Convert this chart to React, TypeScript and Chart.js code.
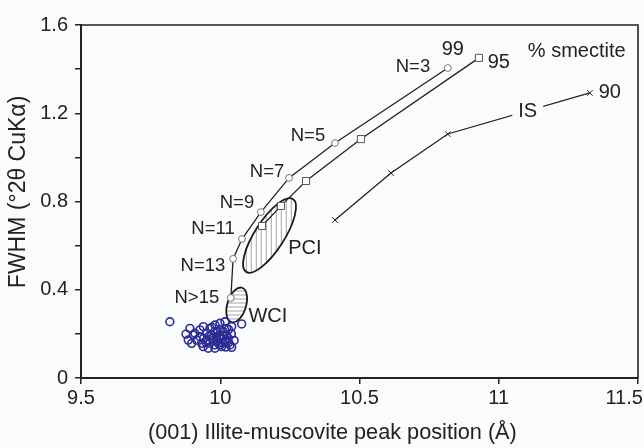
import React, { useEffect, useRef } from 'react';
import { Chart, registerables } from 'chart.js';

Chart.register(...registerables);

// ---- data ----
const xTicks = [9.5, 10, 10.5, 11, 11.5];
const yTicksLabeled = [0, 0.4, 0.8, 1.2, 1.6];

// 99 % smectite curve (circle markers), N = number of layers
const s99X = [10.817, 10.412, 10.247, 10.146, 10.078, 10.046, 10.038];
const s99Y = [1.405, 1.065, 0.907, 0.752, 0.63, 0.54, 0.363];
const nLabels = ['N=3', 'N=5', 'N=7', 'N=9', 'N=11', 'N=13', 'N>15'];
const nLabelX = [10.692, 10.315, 10.168, 10.06, 9.974, 9.938, 9.916];
const nLabelY = [1.41, 1.097, 0.934, 0.793, 0.675, 0.508, 0.363];

// 95 % smectite curve (square markers)
const s95X = [10.929, 10.505, 10.308, 10.218, 10.15];
const s95Y = [1.451, 1.083, 0.893, 0.78, 0.689];

// IS curve, 90 % smectite (x markers)
const isX = [11.327, 10.817, 10.613, 10.412];
const isY = [1.292, 1.106, 0.929, 0.716];

// measured samples
const clusterX = [9.819, 9.877, 9.891, 9.903, 9.885, 9.915, 9.927, 9.939, 9.951, 9.963,
  9.981, 9.999, 10.017, 10.023, 10.041, 10.077, 9.933, 9.939, 9.963, 9.975,
  9.987, 9.993, 10.005, 10.017, 10.029, 10.035, 10.041, 9.981, 9.957, 10.011,
  9.999, 10.023, 9.969, 9.951, 9.927, 9.909, 9.897,
  9.99, 10.0, 10.01, 9.98, 10.02, 9.97, 10.0, 10.03, 9.96, 10.01,
  9.99, 10.04, 10.05, 9.98, 10.02, 9.95, 9.94, 10.0, 10.03, 9.97];
const clusterY = [0.255, 0.199, 0.225, 0.195, 0.172, 0.172, 0.218, 0.233, 0.203, 0.225,
  0.24, 0.248, 0.255, 0.225, 0.233, 0.245, 0.157, 0.142, 0.157, 0.172,
  0.187, 0.157, 0.142, 0.165, 0.18, 0.15, 0.139, 0.135, 0.135, 0.21,
  0.195, 0.195, 0.195, 0.172, 0.187, 0.203, 0.157,
  0.17, 0.18, 0.16, 0.15, 0.17, 0.18, 0.15, 0.16, 0.19, 0.19,
  0.21, 0.2, 0.17, 0.21, 0.14, 0.16, 0.18, 0.22, 0.22, 0.23];

// text annotations (data coordinates of text centre)
const annoText = ['99', '95', '% smectite', '90', 'IS', 'PCI', 'WCI'];
const annoX = [10.835, 11.0, 11.28, 11.399, 11.104, 10.304, 10.171];
const annoY = [1.487, 1.428, 1.482, 1.292, 1.21, 0.589, 0.281];

// ellipses: centre, end of major semi-axis, minor/major ratio, hatch direction
const ellName = ['PCI', 'WCI'];
const ellCX = [10.177, 10.059];
const ellCY = [0.646, 0.331];
const ellEX = [10.261, 10.078];
const ellEY = [0.811, 0.409];
const ellRatio = [0.34, 0.52];
const ellHatch = ['vertical', 'horizontal'];

const FONT = '"Liberation Sans", Arial, Helvetica, sans-serif';
const BG = '#fafbfd';

const toPts = (xs: number[], ys: number[]) => xs.map((x, i) => ({ x, y: ys[i] }));

const overlay = {
  id: 'overlay',
  beforeDraw(chart: any) {
    const { ctx, width, height } = chart;
    ctx.save();
    ctx.fillStyle = BG;
    ctx.fillRect(0, 0, width, height);
    ctx.restore();
  },
  beforeDatasetsDraw(chart: any) {
    const { ctx, scales } = chart;
    const sx = scales.x, sy = scales.y;
    for (let i = 0; i < ellName.length; i++) {
      const cx = sx.getPixelForValue(ellCX[i]);
      const cy = sy.getPixelForValue(ellCY[i]);
      const ex = sx.getPixelForValue(ellEX[i]);
      const ey = sy.getPixelForValue(ellEY[i]);
      const a = Math.hypot(ex - cx, ey - cy);
      const b = a * ellRatio[i];
      const ang = Math.atan2(ey - cy, ex - cx);
      ctx.save();
      ctx.beginPath();
      ctx.ellipse(cx, cy, a, b, ang, 0, Math.PI * 2);
      ctx.fillStyle = '#ffffff';
      ctx.fill();
      ctx.clip();
      ctx.strokeStyle = '#9a9a9a';
      ctx.lineWidth = 0.9;
      ctx.beginPath();
      if (ellHatch[i] === 'vertical') {
        for (let x = cx - a - 5; x <= cx + a + 5; x += 5) {
          ctx.moveTo(x, cy - a - 5);
          ctx.lineTo(x, cy + a + 5);
        }
      } else {
        for (let y = cy - a - 4; y <= cy + a + 4; y += 4) {
          ctx.moveTo(cx - a - 4, y);
          ctx.lineTo(cx + a + 4, y);
        }
      }
      ctx.stroke();
      ctx.restore();
      ctx.save();
      ctx.beginPath();
      ctx.ellipse(cx, cy, a, b, ang, 0, Math.PI * 2);
      ctx.strokeStyle = '#1a1a1a';
      ctx.lineWidth = 1.8;
      ctx.stroke();
      ctx.restore();
    }
  },
  afterDatasetsDraw(chart: any) {
    const { ctx, scales, chartArea } = chart;
    const sx = scales.x, sy = scales.y;
    ctx.save();
    ctx.textAlign = 'center';
    ctx.textBaseline = 'middle';
    ctx.fillStyle = '#222';
    ctx.font = '18.5px ' + FONT;
    for (let i = 0; i < nLabels.length; i++) {
      ctx.fillText(nLabels[i], sx.getPixelForValue(nLabelX[i]), sy.getPixelForValue(nLabelY[i]));
    }
    ctx.font = '20px ' + FONT;
    for (let i = 0; i < annoText.length; i++) {
      const px = sx.getPixelForValue(annoX[i]);
      const py = sy.getPixelForValue(annoY[i]);
      if (annoText[i] === 'IS') {
        const w = ctx.measureText('IS').width;
        ctx.fillStyle = BG;
        ctx.fillRect(px - w / 2 - 6, py - 11, w + 12, 22);
        ctx.fillStyle = '#222';
      }
      ctx.fillText(annoText[i], px, py);
    }
    // frame: top & right
    ctx.strokeStyle = '#222';
    ctx.lineWidth = 1.6;
    ctx.beginPath();
    ctx.moveTo(chartArea.left, chartArea.top);
    ctx.lineTo(chartArea.right, chartArea.top);
    ctx.lineTo(chartArea.right, chartArea.bottom);
    ctx.stroke();
    ctx.restore();
  },
};

export default function App() {
  const ref = useRef<HTMLCanvasElement | null>(null);
  useEffect(() => {
    if (!ref.current) return;
    const chart = new Chart(ref.current, {
      type: 'scatter',
      data: {
        datasets: [
          {
            label: '99',
            data: toPts(s99X, s99Y),
            showLine: true,
            borderColor: '#222',
            borderWidth: 1.3,
            pointStyle: 'circle',
            pointRadius: 3.4,
            pointBorderWidth: 1,
            pointBorderColor: '#777',
            pointBackgroundColor: '#ffffff',
          },
          {
            label: '95',
            data: toPts(s95X, s95Y),
            showLine: true,
            borderColor: '#222',
            borderWidth: 1.3,
            pointStyle: 'rect',
            pointRadius: 5,
            pointBorderWidth: 1,
            pointBorderColor: '#555',
            pointBackgroundColor: '#ffffff',
          },
          {
            label: 'IS',
            data: toPts(isX, isY),
            showLine: true,
            borderColor: '#222',
            borderWidth: 1.3,
            pointStyle: 'crossRot',
            pointRadius: 4,
            pointBorderWidth: 1,
            pointBorderColor: '#222',
          },
          {
            label: 'samples',
            data: toPts(clusterX, clusterY),
            showLine: false,
            pointStyle: 'circle',
            pointRadius: 3.9,
            pointBorderWidth: 1.6,
            pointBorderColor: '#2c2c96',
            pointBackgroundColor: 'rgba(0,0,0,0)',
          },
        ],
      },
      options: {
        animation: false,
        responsive: false,
        events: [],
        layout: { padding: { top: 25, right: 6, left: 0, bottom: 0 } },
        plugins: { legend: { display: false }, tooltip: { enabled: false } },
        scales: {
          x: {
            type: 'linear',
            min: 9.5,
            max: 11.5,
            afterBuildTicks: (s: any) => { s.ticks = xTicks.map((v) => ({ value: v })); },
            afterFit: (s: any) => { s.height = 70; s.paddingLeft = 0; s.paddingRight = 0; },
            border: { display: true, color: '#222', width: 2 },
            grid: { drawOnChartArea: false, drawTicks: true, tickLength: 6, color: '#222', lineWidth: 1.5 },
            ticks: {
              color: '#222',
              font: { family: FONT, size: 20 },
              padding: 2,
              maxRotation: 0,
              autoSkip: false,
              callback: (v: any) => (v === 11.5 ? '11.5     ' : String(v)),
            },
            title: {
              display: true,
              text: '(001) Illite-muscovite peak position (Å)         ',
              color: '#222',
              font: { family: FONT, size: 21.7 },
              padding: { top: 0, bottom: 2 },
            },
          },
          y: {
            type: 'linear',
            min: 0,
            max: 1.6,
            afterBuildTicks: (s: any) => {
              const t = [];
              for (let i = 0; i <= 8; i++) t.push({ value: Math.round(i * 2) / 10 });
              s.ticks = t;
            },
            afterFit: (s: any) => { s.width = 81; s.paddingTop = 0; s.paddingBottom = 0; },
            border: { display: true, color: '#222', width: 2 },
            grid: { drawOnChartArea: false, drawTicks: true, tickLength: 6, color: '#222', lineWidth: 1.5 },
            ticks: {
              color: '#222',
              font: { family: FONT, size: 20 },
              padding: 7,
              autoSkip: false,
              callback: (v: any) => {
                const m = yTicksLabeled.find((t) => Math.abs(t - v) < 1e-6);
                return m === undefined ? '' : String(m);
              },
            },
            title: {
              display: true,
              text: '   FWHM (°2θ CuKα)',
              color: '#222',
              font: { family: FONT, size: 23 },
              padding: { top: 5, bottom: 0 },
            },
          },
        },
      },
      plugins: [overlay],
    } as any);
    return () => chart.destroy();
  }, []);
  return (
    <div style={{ position: 'fixed', left: 0, top: 0, width: 644, height: 448, background: BG }}>
      <canvas ref={ref} width={644} height={448} style={{ display: 'block' }} />
    </div>
  );
}
